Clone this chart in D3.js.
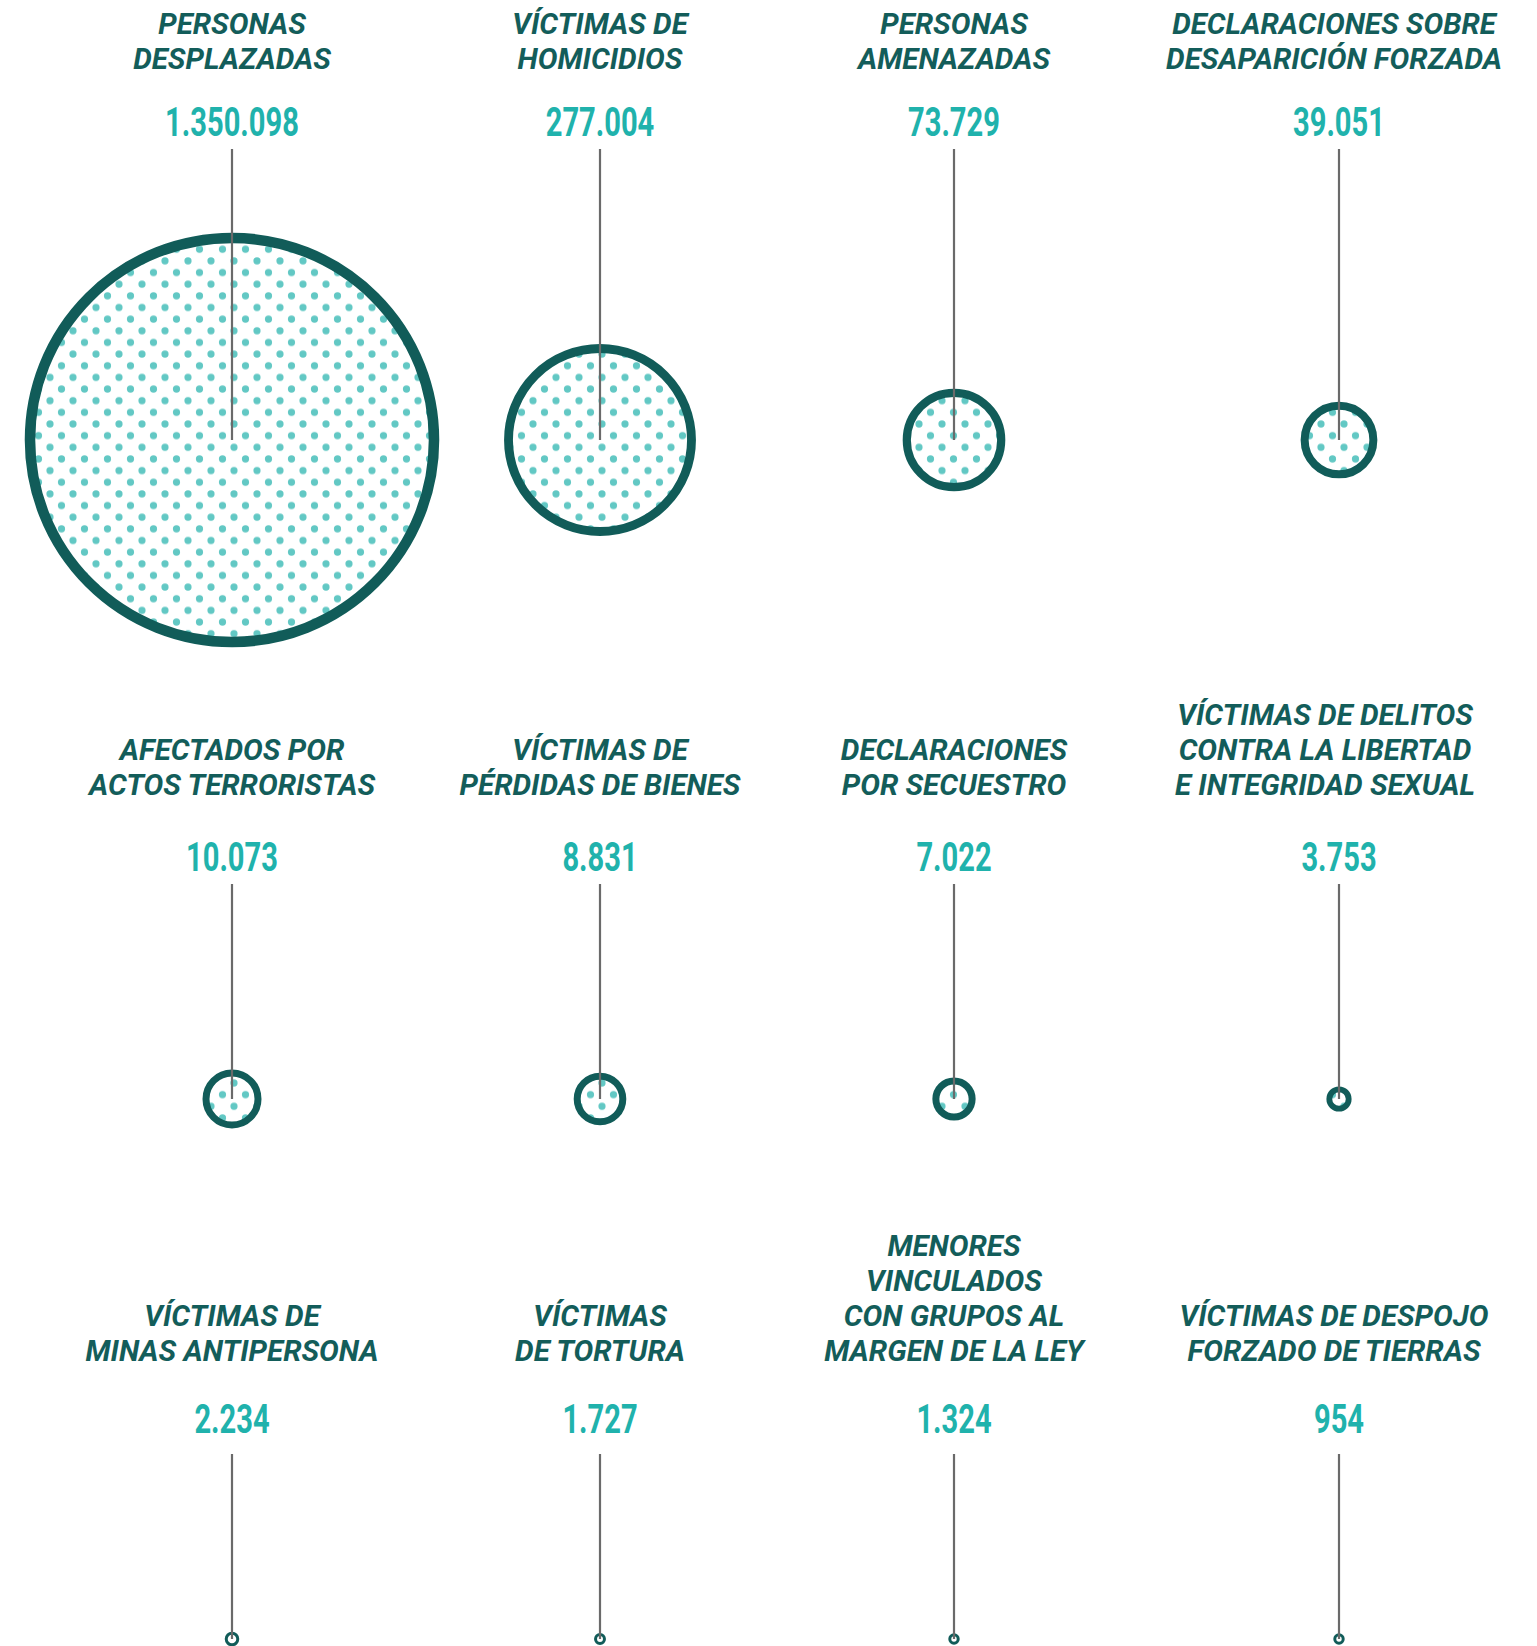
<!DOCTYPE html>
<html lang="es">
<head>
<meta charset="utf-8">
<script src="https://cdn.jsdelivr.net/npm/d3@7"></script>
<style>
  html, body { margin: 0; padding: 0; background: #ffffff; }
  #chart { width: 1537px; height: 1646px; overflow: hidden; }
</style>
</head>
<body>
<div id="chart"></div>
<script>
// Category labels (one entry per line of the title)
const titles = [
  ["PERSONAS", "DESPLAZADAS"],
  ["VÍCTIMAS DE", "HOMICIDIOS"],
  ["PERSONAS", "AMENAZADAS"],
  ["DECLARACIONES SOBRE", "DESAPARICIÓN FORZADA"],
  ["AFECTADOS POR", "ACTOS TERRORISTAS"],
  ["VÍCTIMAS DE", "PÉRDIDAS DE BIENES"],
  ["DECLARACIONES", "POR SECUESTRO"],
  ["VÍCTIMAS DE DELITOS", "CONTRA LA LIBERTAD", "E INTEGRIDAD SEXUAL"],
  ["VÍCTIMAS DE", "MINAS ANTIPERSONA"],
  ["VÍCTIMAS", "DE TORTURA"],
  ["MENORES", "VINCULADOS", "CON GRUPOS AL", "MARGEN DE LA LEY"],
  ["VÍCTIMAS DE DESPOJO", "FORZADO DE TIERRAS"]
];

// Number of victims per category
const values = [1350098, 277004, 73729, 39051, 10073, 8831, 7022, 3753, 2234, 1727, 1324, 954];

const width = 1537;
const height = 1646;

// Layout of each row of the grid
const rows = [
  { titleBase: 69, numBase: 136, lineTop: 149, cy: 440 },
  { titleBase: 795, numBase: 871, lineTop: 884, cy: 1099 },
  { titleBase: 1361, numBase: 1433, lineTop: 1454, cy: 1639 }
];

const data = values.map((v, i) => ({
  title: titles[i],
  value: v,
  row: Math.floor(i / 4),
  col: i % 4,
  i
}));

// column centres
const x = d3.scaleOrdinal().domain([0, 1, 2, 3]).range([232, 600, 954, 1339]);

// circle area for the top row, smaller rows drawn on a linear scale
const rBig = d3.scaleSqrt().domain([0, d3.max(values)]).range([0, 202]);
const rSmall = d3.scaleLinear().domain([0, 10073]).range([0, 26]);
const radius = (d) => (d.row === 0 ? rBig(d.value) : Math.max(rSmall(d.value), 4.2));
const ringWidth = (d) => {
  if (d.row === 0) return 7.5 + 0.015 * radius(d);
  if (d.row === 1) return Math.min(7, radius(d) * 0.6);
  return 3;
};

const fmt = d3.formatLocale({
  decimal: ",",
  thousands: ".",
  grouping: [3],
  currency: ["$", ""]
}).format(",d");

const svg = d3.select("#chart")
  .append("svg")
  .attr("width", width)
  .attr("height", height)
  .attr("viewBox", `0 0 ${width} ${height}`);

const defs = svg.append("defs");

// dotted fill, one pattern per circle so the dots line up with its centre
data.forEach((d) => {
  const pw = 23, ph = 23.3;
  const p = defs.append("pattern")
    .attr("id", `dots-${d.i}`)
    .attr("patternUnits", "userSpaceOnUse")
    .attr("width", pw)
    .attr("height", ph)
    .attr("x", x(d.col))
    .attr("y", rows[d.row].cy + 7.3);
  [[0, 0], [pw, 0], [0, ph], [pw, ph], [pw / 2, ph / 2]].forEach(([px, py]) => {
    p.append("circle")
      .attr("cx", px)
      .attr("cy", py)
      .attr("r", 3.6)
      .attr("fill", "#62c8c4");
  });
});

const cells = svg.selectAll(".cell")
  .data(data)
  .enter()
  .append("g")
  .attr("class", "cell")
  .attr("transform", (d) => `translate(${x(d.col)},0)`);

// titles, bottom aligned
cells.append("text")
  .attr("text-anchor", "middle")
  .style("font-family", "Roboto, 'Open Sans', sans-serif")
  .style("font-weight", 700)
  .style("font-style", "italic")
  .style("font-size", "29.5px")
  .style("fill", "#135d5a")
  .each(function (d) {
    const n = d.title.length;
    const dx = d.col === 3 ? (d.row === 1 ? -14 : -5) : 0;
    d3.select(this)
      .selectAll("tspan")
      .data(d.title)
      .enter()
      .append("tspan")
      .attr("x", dx)
      .attr("y", (t, k) => rows[d.row].titleBase - (n - 1 - k) * 35)
      .text((t) => t);
  });

// value labels, narrow
cells.append("text")
  .attr("transform", (d) => `translate(0,${rows[d.row].numBase}) scale(0.71,1)`)
  .attr("text-anchor", "middle")
  .style("font-family", "Roboto, sans-serif")
  .style("font-weight", 700)
  .style("font-size", "41px")
  .style("fill", "#20b2ac")
  .text((d) => fmt(d.value));

// circles
cells.append("circle")
  .attr("cx", 0)
  .attr("cy", (d) => rows[d.row].cy)
  .attr("r", (d) => radius(d))
  .attr("fill", (d) => (d.row === 2 ? "#ffffff" : `url(#dots-${d.i})`))
  .attr("stroke", "#115c59")
  .attr("stroke-width", (d) => ringWidth(d));

// leader lines from number to circle centre
cells.append("line")
  .attr("x1", 0)
  .attr("x2", 0)
  .attr("y1", (d) => rows[d.row].lineTop)
  .attr("y2", (d) => rows[d.row].cy)
  .attr("stroke", "#6a6a6a")
  .attr("stroke-width", 2.2);
</script>
</body>
</html>
